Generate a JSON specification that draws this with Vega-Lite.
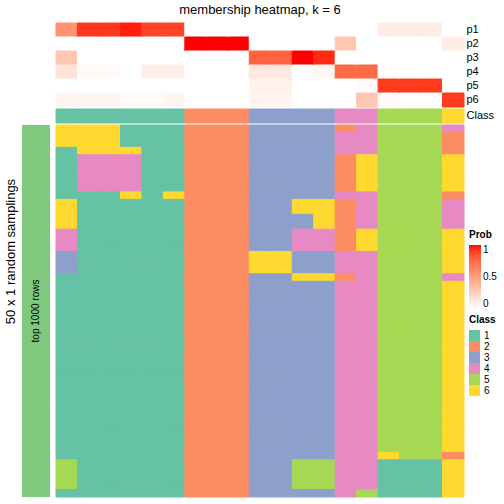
{
"$schema": "https://vega.github.io/schema/vega-lite/v6.json",
"padding": {"left": 4, "top": 3, "right": 0, "bottom": 0},
"config": {"font": "Liberation Sans", "view": {"stroke": null}, "axis": {"grid": false}},
"datasets": {
"bar": [{"label": "top 1000 rows", "g": "a"}],
"cls": [{"n":"Class","c":1,"k":1},{"n":"Class","c":2,"k":1},{"n":"Class","c":3,"k":1},{"n":"Class","c":4,"k":1},{"n":"Class","c":5,"k":1},{"n":"Class","c":6,"k":1},{"n":"Class","c":7,"k":2},{"n":"Class","c":8,"k":2},{"n":"Class","c":9,"k":2},{"n":"Class","c":10,"k":3},{"n":"Class","c":11,"k":3},{"n":"Class","c":12,"k":3},{"n":"Class","c":13,"k":3},{"n":"Class","c":14,"k":4},{"n":"Class","c":15,"k":4},{"n":"Class","c":16,"k":5},{"n":"Class","c":17,"k":5},{"n":"Class","c":18,"k":5},{"n":"Class","c":19,"k":6}],
"prob": [
{"p":"p1","c":1,"v":0.56},{"p":"p2","c":1,"v":0},{"p":"p3","c":1,"v":0.3},{"p":"p4","c":1,"v":0.15},{"p":"p5","c":1,"v":0},{"p":"p6","c":1,"v":0.06},
{"p":"p1","c":2,"v":0.92},{"p":"p2","c":2,"v":0},{"p":"p3","c":2,"v":0},{"p":"p4","c":2,"v":0.03},{"p":"p5","c":2,"v":0},{"p":"p6","c":2,"v":0.05},
{"p":"p1","c":3,"v":0.92},{"p":"p2","c":3,"v":0},{"p":"p3","c":3,"v":0},{"p":"p4","c":3,"v":0.03},{"p":"p5","c":3,"v":0},{"p":"p6","c":3,"v":0.05},
{"p":"p1","c":4,"v":0.97},{"p":"p2","c":4,"v":0},{"p":"p3","c":4,"v":0},{"p":"p4","c":4,"v":0},{"p":"p5","c":4,"v":0},{"p":"p6","c":4,"v":0.03},
{"p":"p1","c":5,"v":0.88},{"p":"p2","c":5,"v":0},{"p":"p3","c":5,"v":0},{"p":"p4","c":5,"v":0.09},{"p":"p5","c":5,"v":0},{"p":"p6","c":5,"v":0.03},
{"p":"p1","c":6,"v":0.88},{"p":"p2","c":6,"v":0},{"p":"p3","c":6,"v":0},{"p":"p4","c":6,"v":0.09},{"p":"p5","c":6,"v":0},{"p":"p6","c":6,"v":0.05},
{"p":"p1","c":7,"v":0},{"p":"p2","c":7,"v":1},{"p":"p3","c":7,"v":0},{"p":"p4","c":7,"v":0},{"p":"p5","c":7,"v":0},{"p":"p6","c":7,"v":0},
{"p":"p1","c":8,"v":0},{"p":"p2","c":8,"v":1},{"p":"p3","c":8,"v":0},{"p":"p4","c":8,"v":0},{"p":"p5","c":8,"v":0},{"p":"p6","c":8,"v":0},
{"p":"p1","c":9,"v":0},{"p":"p2","c":9,"v":1},{"p":"p3","c":9,"v":0},{"p":"p4","c":9,"v":0},{"p":"p5","c":9,"v":0},{"p":"p6","c":9,"v":0},
{"p":"p1","c":10,"v":0},{"p":"p2","c":10,"v":0},{"p":"p3","c":10,"v":0.78},{"p":"p4","c":10,"v":0.12},{"p":"p5","c":10,"v":0.07},{"p":"p6","c":10,"v":0.06},
{"p":"p1","c":11,"v":0},{"p":"p2","c":11,"v":0},{"p":"p3","c":11,"v":0.78},{"p":"p4","c":11,"v":0.12},{"p":"p5","c":11,"v":0.07},{"p":"p6","c":11,"v":0.06},
{"p":"p1","c":12,"v":0},{"p":"p2","c":12,"v":0},{"p":"p3","c":12,"v":1},{"p":"p4","c":12,"v":0},{"p":"p5","c":12,"v":0},{"p":"p6","c":12,"v":0},
{"p":"p1","c":13,"v":0},{"p":"p2","c":13,"v":0},{"p":"p3","c":13,"v":0.95},{"p":"p4","c":13,"v":0.04},{"p":"p5","c":13,"v":0},{"p":"p6","c":13,"v":0},
{"p":"p1","c":14,"v":0},{"p":"p2","c":14,"v":0.3},{"p":"p3","c":14,"v":0},{"p":"p4","c":14,"v":0.74},{"p":"p5","c":14,"v":0},{"p":"p6","c":14,"v":0},
{"p":"p1","c":15,"v":0},{"p":"p2","c":15,"v":0},{"p":"p3","c":15,"v":0},{"p":"p4","c":15,"v":0.74},{"p":"p5","c":15,"v":0.02},{"p":"p6","c":15,"v":0.3},
{"p":"p1","c":16,"v":0.1},{"p":"p2","c":16,"v":0},{"p":"p3","c":16,"v":0},{"p":"p4","c":16,"v":0},{"p":"p5","c":16,"v":0.91},{"p":"p6","c":16,"v":0.02},
{"p":"p1","c":17,"v":0.1},{"p":"p2","c":17,"v":0},{"p":"p3","c":17,"v":0},{"p":"p4","c":17,"v":0},{"p":"p5","c":17,"v":0.91},{"p":"p6","c":17,"v":0},
{"p":"p1","c":18,"v":0.1},{"p":"p2","c":18,"v":0},{"p":"p3","c":18,"v":0},{"p":"p4","c":18,"v":0},{"p":"p5","c":18,"v":0.91},{"p":"p6","c":18,"v":0},
{"p":"p1","c":19,"v":0},{"p":"p2","c":19,"v":0.1},{"p":"p3","c":19,"v":0},{"p":"p4","c":19,"v":0},{"p":"p5","c":19,"v":0},{"p":"p6","c":19,"v":0.91}
],
"main": [
{"r":1,"c":1,"k":6},{"r":1,"c":2,"k":6},{"r":1,"c":3,"k":6},{"r":1,"c":4,"k":1},{"r":1,"c":5,"k":1},{"r":1,"c":6,"k":1},{"r":1,"c":7,"k":2},{"r":1,"c":8,"k":2},{"r":1,"c":9,"k":2},{"r":1,"c":10,"k":3},{"r":1,"c":11,"k":3},{"r":1,"c":12,"k":3},{"r":1,"c":13,"k":3},{"r":1,"c":14,"k":2},{"r":1,"c":15,"k":4},{"r":1,"c":16,"k":5},{"r":1,"c":17,"k":5},{"r":1,"c":18,"k":5},{"r":1,"c":19,"k":4},
{"r":2,"c":1,"k":6},{"r":2,"c":2,"k":6},{"r":2,"c":3,"k":6},{"r":2,"c":4,"k":1},{"r":2,"c":5,"k":1},{"r":2,"c":6,"k":1},{"r":2,"c":7,"k":2},{"r":2,"c":8,"k":2},{"r":2,"c":9,"k":2},{"r":2,"c":10,"k":3},{"r":2,"c":11,"k":3},{"r":2,"c":12,"k":3},{"r":2,"c":13,"k":3},{"r":2,"c":14,"k":4},{"r":2,"c":15,"k":4},{"r":2,"c":16,"k":5},{"r":2,"c":17,"k":5},{"r":2,"c":18,"k":5},{"r":2,"c":19,"k":2},
{"r":3,"c":1,"k":6},{"r":3,"c":2,"k":6},{"r":3,"c":3,"k":6},{"r":3,"c":4,"k":1},{"r":3,"c":5,"k":1},{"r":3,"c":6,"k":1},{"r":3,"c":7,"k":2},{"r":3,"c":8,"k":2},{"r":3,"c":9,"k":2},{"r":3,"c":10,"k":3},{"r":3,"c":11,"k":3},{"r":3,"c":12,"k":3},{"r":3,"c":13,"k":3},{"r":3,"c":14,"k":4},{"r":3,"c":15,"k":4},{"r":3,"c":16,"k":5},{"r":3,"c":17,"k":5},{"r":3,"c":18,"k":5},{"r":3,"c":19,"k":2},
{"r":4,"c":1,"k":1},{"r":4,"c":2,"k":6},{"r":4,"c":3,"k":6},{"r":4,"c":4,"k":6},{"r":4,"c":5,"k":1},{"r":4,"c":6,"k":1},{"r":4,"c":7,"k":2},{"r":4,"c":8,"k":2},{"r":4,"c":9,"k":2},{"r":4,"c":10,"k":3},{"r":4,"c":11,"k":3},{"r":4,"c":12,"k":3},{"r":4,"c":13,"k":3},{"r":4,"c":14,"k":4},{"r":4,"c":15,"k":4},{"r":4,"c":16,"k":5},{"r":4,"c":17,"k":5},{"r":4,"c":18,"k":5},{"r":4,"c":19,"k":2},
{"r":5,"c":1,"k":1},{"r":5,"c":2,"k":4},{"r":5,"c":3,"k":4},{"r":5,"c":4,"k":4},{"r":5,"c":5,"k":1},{"r":5,"c":6,"k":1},{"r":5,"c":7,"k":2},{"r":5,"c":8,"k":2},{"r":5,"c":9,"k":2},{"r":5,"c":10,"k":3},{"r":5,"c":11,"k":3},{"r":5,"c":12,"k":3},{"r":5,"c":13,"k":3},{"r":5,"c":14,"k":2},{"r":5,"c":15,"k":6},{"r":5,"c":16,"k":5},{"r":5,"c":17,"k":5},{"r":5,"c":18,"k":5},{"r":5,"c":19,"k":6},
{"r":6,"c":1,"k":1},{"r":6,"c":2,"k":4},{"r":6,"c":3,"k":4},{"r":6,"c":4,"k":4},{"r":6,"c":5,"k":1},{"r":6,"c":6,"k":1},{"r":6,"c":7,"k":2},{"r":6,"c":8,"k":2},{"r":6,"c":9,"k":2},{"r":6,"c":10,"k":3},{"r":6,"c":11,"k":3},{"r":6,"c":12,"k":3},{"r":6,"c":13,"k":3},{"r":6,"c":14,"k":2},{"r":6,"c":15,"k":6},{"r":6,"c":16,"k":5},{"r":6,"c":17,"k":5},{"r":6,"c":18,"k":5},{"r":6,"c":19,"k":6},
{"r":7,"c":1,"k":1},{"r":7,"c":2,"k":4},{"r":7,"c":3,"k":4},{"r":7,"c":4,"k":4},{"r":7,"c":5,"k":1},{"r":7,"c":6,"k":1},{"r":7,"c":7,"k":2},{"r":7,"c":8,"k":2},{"r":7,"c":9,"k":2},{"r":7,"c":10,"k":3},{"r":7,"c":11,"k":3},{"r":7,"c":12,"k":3},{"r":7,"c":13,"k":3},{"r":7,"c":14,"k":2},{"r":7,"c":15,"k":6},{"r":7,"c":16,"k":5},{"r":7,"c":17,"k":5},{"r":7,"c":18,"k":5},{"r":7,"c":19,"k":6},
{"r":8,"c":1,"k":1},{"r":8,"c":2,"k":4},{"r":8,"c":3,"k":4},{"r":8,"c":4,"k":4},{"r":8,"c":5,"k":1},{"r":8,"c":6,"k":1},{"r":8,"c":7,"k":2},{"r":8,"c":8,"k":2},{"r":8,"c":9,"k":2},{"r":8,"c":10,"k":3},{"r":8,"c":11,"k":3},{"r":8,"c":12,"k":3},{"r":8,"c":13,"k":3},{"r":8,"c":14,"k":2},{"r":8,"c":15,"k":6},{"r":8,"c":16,"k":5},{"r":8,"c":17,"k":5},{"r":8,"c":18,"k":5},{"r":8,"c":19,"k":6},
{"r":9,"c":1,"k":1},{"r":9,"c":2,"k":4},{"r":9,"c":3,"k":4},{"r":9,"c":4,"k":4},{"r":9,"c":5,"k":1},{"r":9,"c":6,"k":1},{"r":9,"c":7,"k":2},{"r":9,"c":8,"k":2},{"r":9,"c":9,"k":2},{"r":9,"c":10,"k":3},{"r":9,"c":11,"k":3},{"r":9,"c":12,"k":3},{"r":9,"c":13,"k":3},{"r":9,"c":14,"k":2},{"r":9,"c":15,"k":6},{"r":9,"c":16,"k":5},{"r":9,"c":17,"k":5},{"r":9,"c":18,"k":5},{"r":9,"c":19,"k":6},
{"r":10,"c":1,"k":1},{"r":10,"c":2,"k":1},{"r":10,"c":3,"k":1},{"r":10,"c":4,"k":6},{"r":10,"c":5,"k":1},{"r":10,"c":6,"k":6},{"r":10,"c":7,"k":2},{"r":10,"c":8,"k":2},{"r":10,"c":9,"k":2},{"r":10,"c":10,"k":3},{"r":10,"c":11,"k":3},{"r":10,"c":12,"k":3},{"r":10,"c":13,"k":3},{"r":10,"c":14,"k":4},{"r":10,"c":15,"k":4},{"r":10,"c":16,"k":5},{"r":10,"c":17,"k":5},{"r":10,"c":18,"k":5},{"r":10,"c":19,"k":2},
{"r":11,"c":1,"k":6},{"r":11,"c":2,"k":1},{"r":11,"c":3,"k":1},{"r":11,"c":4,"k":1},{"r":11,"c":5,"k":1},{"r":11,"c":6,"k":1},{"r":11,"c":7,"k":2},{"r":11,"c":8,"k":2},{"r":11,"c":9,"k":2},{"r":11,"c":10,"k":3},{"r":11,"c":11,"k":3},{"r":11,"c":12,"k":6},{"r":11,"c":13,"k":6},{"r":11,"c":14,"k":2},{"r":11,"c":15,"k":4},{"r":11,"c":16,"k":5},{"r":11,"c":17,"k":5},{"r":11,"c":18,"k":5},{"r":11,"c":19,"k":4},
{"r":12,"c":1,"k":6},{"r":12,"c":2,"k":1},{"r":12,"c":3,"k":1},{"r":12,"c":4,"k":1},{"r":12,"c":5,"k":1},{"r":12,"c":6,"k":1},{"r":12,"c":7,"k":2},{"r":12,"c":8,"k":2},{"r":12,"c":9,"k":2},{"r":12,"c":10,"k":3},{"r":12,"c":11,"k":3},{"r":12,"c":12,"k":6},{"r":12,"c":13,"k":6},{"r":12,"c":14,"k":2},{"r":12,"c":15,"k":4},{"r":12,"c":16,"k":5},{"r":12,"c":17,"k":5},{"r":12,"c":18,"k":5},{"r":12,"c":19,"k":4},
{"r":13,"c":1,"k":6},{"r":13,"c":2,"k":1},{"r":13,"c":3,"k":1},{"r":13,"c":4,"k":1},{"r":13,"c":5,"k":1},{"r":13,"c":6,"k":1},{"r":13,"c":7,"k":2},{"r":13,"c":8,"k":2},{"r":13,"c":9,"k":2},{"r":13,"c":10,"k":3},{"r":13,"c":11,"k":3},{"r":13,"c":12,"k":3},{"r":13,"c":13,"k":6},{"r":13,"c":14,"k":2},{"r":13,"c":15,"k":4},{"r":13,"c":16,"k":5},{"r":13,"c":17,"k":5},{"r":13,"c":18,"k":5},{"r":13,"c":19,"k":4},
{"r":14,"c":1,"k":6},{"r":14,"c":2,"k":1},{"r":14,"c":3,"k":1},{"r":14,"c":4,"k":1},{"r":14,"c":5,"k":1},{"r":14,"c":6,"k":1},{"r":14,"c":7,"k":2},{"r":14,"c":8,"k":2},{"r":14,"c":9,"k":2},{"r":14,"c":10,"k":3},{"r":14,"c":11,"k":3},{"r":14,"c":12,"k":3},{"r":14,"c":13,"k":6},{"r":14,"c":14,"k":2},{"r":14,"c":15,"k":4},{"r":14,"c":16,"k":5},{"r":14,"c":17,"k":5},{"r":14,"c":18,"k":5},{"r":14,"c":19,"k":4},
{"r":15,"c":1,"k":4},{"r":15,"c":2,"k":1},{"r":15,"c":3,"k":1},{"r":15,"c":4,"k":1},{"r":15,"c":5,"k":1},{"r":15,"c":6,"k":1},{"r":15,"c":7,"k":2},{"r":15,"c":8,"k":2},{"r":15,"c":9,"k":2},{"r":15,"c":10,"k":3},{"r":15,"c":11,"k":3},{"r":15,"c":12,"k":4},{"r":15,"c":13,"k":4},{"r":15,"c":14,"k":2},{"r":15,"c":15,"k":6},{"r":15,"c":16,"k":5},{"r":15,"c":17,"k":5},{"r":15,"c":18,"k":5},{"r":15,"c":19,"k":6},
{"r":16,"c":1,"k":4},{"r":16,"c":2,"k":1},{"r":16,"c":3,"k":1},{"r":16,"c":4,"k":1},{"r":16,"c":5,"k":1},{"r":16,"c":6,"k":1},{"r":16,"c":7,"k":2},{"r":16,"c":8,"k":2},{"r":16,"c":9,"k":2},{"r":16,"c":10,"k":3},{"r":16,"c":11,"k":3},{"r":16,"c":12,"k":4},{"r":16,"c":13,"k":4},{"r":16,"c":14,"k":2},{"r":16,"c":15,"k":6},{"r":16,"c":16,"k":5},{"r":16,"c":17,"k":5},{"r":16,"c":18,"k":5},{"r":16,"c":19,"k":6},
{"r":17,"c":1,"k":4},{"r":17,"c":2,"k":1},{"r":17,"c":3,"k":1},{"r":17,"c":4,"k":1},{"r":17,"c":5,"k":1},{"r":17,"c":6,"k":1},{"r":17,"c":7,"k":2},{"r":17,"c":8,"k":2},{"r":17,"c":9,"k":2},{"r":17,"c":10,"k":3},{"r":17,"c":11,"k":3},{"r":17,"c":12,"k":4},{"r":17,"c":13,"k":4},{"r":17,"c":14,"k":2},{"r":17,"c":15,"k":6},{"r":17,"c":16,"k":5},{"r":17,"c":17,"k":5},{"r":17,"c":18,"k":5},{"r":17,"c":19,"k":6},
{"r":18,"c":1,"k":3},{"r":18,"c":2,"k":1},{"r":18,"c":3,"k":1},{"r":18,"c":4,"k":1},{"r":18,"c":5,"k":1},{"r":18,"c":6,"k":1},{"r":18,"c":7,"k":2},{"r":18,"c":8,"k":2},{"r":18,"c":9,"k":2},{"r":18,"c":10,"k":6},{"r":18,"c":11,"k":6},{"r":18,"c":12,"k":3},{"r":18,"c":13,"k":3},{"r":18,"c":14,"k":4},{"r":18,"c":15,"k":4},{"r":18,"c":16,"k":5},{"r":18,"c":17,"k":5},{"r":18,"c":18,"k":5},{"r":18,"c":19,"k":6},
{"r":19,"c":1,"k":3},{"r":19,"c":2,"k":1},{"r":19,"c":3,"k":1},{"r":19,"c":4,"k":1},{"r":19,"c":5,"k":1},{"r":19,"c":6,"k":1},{"r":19,"c":7,"k":2},{"r":19,"c":8,"k":2},{"r":19,"c":9,"k":2},{"r":19,"c":10,"k":6},{"r":19,"c":11,"k":6},{"r":19,"c":12,"k":3},{"r":19,"c":13,"k":3},{"r":19,"c":14,"k":4},{"r":19,"c":15,"k":4},{"r":19,"c":16,"k":5},{"r":19,"c":17,"k":5},{"r":19,"c":18,"k":5},{"r":19,"c":19,"k":6},
{"r":20,"c":1,"k":3},{"r":20,"c":2,"k":1},{"r":20,"c":3,"k":1},{"r":20,"c":4,"k":1},{"r":20,"c":5,"k":1},{"r":20,"c":6,"k":1},{"r":20,"c":7,"k":2},{"r":20,"c":8,"k":2},{"r":20,"c":9,"k":2},{"r":20,"c":10,"k":6},{"r":20,"c":11,"k":6},{"r":20,"c":12,"k":3},{"r":20,"c":13,"k":3},{"r":20,"c":14,"k":4},{"r":20,"c":15,"k":4},{"r":20,"c":16,"k":5},{"r":20,"c":17,"k":5},{"r":20,"c":18,"k":5},{"r":20,"c":19,"k":6},
{"r":21,"c":1,"k":1},{"r":21,"c":2,"k":1},{"r":21,"c":3,"k":1},{"r":21,"c":4,"k":1},{"r":21,"c":5,"k":1},{"r":21,"c":6,"k":1},{"r":21,"c":7,"k":2},{"r":21,"c":8,"k":2},{"r":21,"c":9,"k":2},{"r":21,"c":10,"k":3},{"r":21,"c":11,"k":3},{"r":21,"c":12,"k":6},{"r":21,"c":13,"k":6},{"r":21,"c":14,"k":2},{"r":21,"c":15,"k":4},{"r":21,"c":16,"k":5},{"r":21,"c":17,"k":5},{"r":21,"c":18,"k":5},{"r":21,"c":19,"k":4},
{"r":22,"c":1,"k":1},{"r":22,"c":2,"k":1},{"r":22,"c":3,"k":1},{"r":22,"c":4,"k":1},{"r":22,"c":5,"k":1},{"r":22,"c":6,"k":1},{"r":22,"c":7,"k":2},{"r":22,"c":8,"k":2},{"r":22,"c":9,"k":2},{"r":22,"c":10,"k":3},{"r":22,"c":11,"k":3},{"r":22,"c":12,"k":3},{"r":22,"c":13,"k":3},{"r":22,"c":14,"k":4},{"r":22,"c":15,"k":4},{"r":22,"c":16,"k":5},{"r":22,"c":17,"k":5},{"r":22,"c":18,"k":5},{"r":22,"c":19,"k":6},
{"r":23,"c":1,"k":1},{"r":23,"c":2,"k":1},{"r":23,"c":3,"k":1},{"r":23,"c":4,"k":1},{"r":23,"c":5,"k":1},{"r":23,"c":6,"k":1},{"r":23,"c":7,"k":2},{"r":23,"c":8,"k":2},{"r":23,"c":9,"k":2},{"r":23,"c":10,"k":3},{"r":23,"c":11,"k":3},{"r":23,"c":12,"k":3},{"r":23,"c":13,"k":3},{"r":23,"c":14,"k":4},{"r":23,"c":15,"k":4},{"r":23,"c":16,"k":5},{"r":23,"c":17,"k":5},{"r":23,"c":18,"k":5},{"r":23,"c":19,"k":6},
{"r":24,"c":1,"k":1},{"r":24,"c":2,"k":1},{"r":24,"c":3,"k":1},{"r":24,"c":4,"k":1},{"r":24,"c":5,"k":1},{"r":24,"c":6,"k":1},{"r":24,"c":7,"k":2},{"r":24,"c":8,"k":2},{"r":24,"c":9,"k":2},{"r":24,"c":10,"k":3},{"r":24,"c":11,"k":3},{"r":24,"c":12,"k":3},{"r":24,"c":13,"k":3},{"r":24,"c":14,"k":4},{"r":24,"c":15,"k":4},{"r":24,"c":16,"k":5},{"r":24,"c":17,"k":5},{"r":24,"c":18,"k":5},{"r":24,"c":19,"k":6},
{"r":25,"c":1,"k":1},{"r":25,"c":2,"k":1},{"r":25,"c":3,"k":1},{"r":25,"c":4,"k":1},{"r":25,"c":5,"k":1},{"r":25,"c":6,"k":1},{"r":25,"c":7,"k":2},{"r":25,"c":8,"k":2},{"r":25,"c":9,"k":2},{"r":25,"c":10,"k":3},{"r":25,"c":11,"k":3},{"r":25,"c":12,"k":3},{"r":25,"c":13,"k":3},{"r":25,"c":14,"k":4},{"r":25,"c":15,"k":4},{"r":25,"c":16,"k":5},{"r":25,"c":17,"k":5},{"r":25,"c":18,"k":5},{"r":25,"c":19,"k":6},
{"r":26,"c":1,"k":1},{"r":26,"c":2,"k":1},{"r":26,"c":3,"k":1},{"r":26,"c":4,"k":1},{"r":26,"c":5,"k":1},{"r":26,"c":6,"k":1},{"r":26,"c":7,"k":2},{"r":26,"c":8,"k":2},{"r":26,"c":9,"k":2},{"r":26,"c":10,"k":3},{"r":26,"c":11,"k":3},{"r":26,"c":12,"k":3},{"r":26,"c":13,"k":3},{"r":26,"c":14,"k":4},{"r":26,"c":15,"k":4},{"r":26,"c":16,"k":5},{"r":26,"c":17,"k":5},{"r":26,"c":18,"k":5},{"r":26,"c":19,"k":6},
{"r":27,"c":1,"k":1},{"r":27,"c":2,"k":1},{"r":27,"c":3,"k":1},{"r":27,"c":4,"k":1},{"r":27,"c":5,"k":1},{"r":27,"c":6,"k":1},{"r":27,"c":7,"k":2},{"r":27,"c":8,"k":2},{"r":27,"c":9,"k":2},{"r":27,"c":10,"k":3},{"r":27,"c":11,"k":3},{"r":27,"c":12,"k":3},{"r":27,"c":13,"k":3},{"r":27,"c":14,"k":4},{"r":27,"c":15,"k":4},{"r":27,"c":16,"k":5},{"r":27,"c":17,"k":5},{"r":27,"c":18,"k":5},{"r":27,"c":19,"k":6},
{"r":28,"c":1,"k":1},{"r":28,"c":2,"k":1},{"r":28,"c":3,"k":1},{"r":28,"c":4,"k":1},{"r":28,"c":5,"k":1},{"r":28,"c":6,"k":1},{"r":28,"c":7,"k":2},{"r":28,"c":8,"k":2},{"r":28,"c":9,"k":2},{"r":28,"c":10,"k":3},{"r":28,"c":11,"k":3},{"r":28,"c":12,"k":3},{"r":28,"c":13,"k":3},{"r":28,"c":14,"k":4},{"r":28,"c":15,"k":4},{"r":28,"c":16,"k":5},{"r":28,"c":17,"k":5},{"r":28,"c":18,"k":5},{"r":28,"c":19,"k":6},
{"r":29,"c":1,"k":1},{"r":29,"c":2,"k":1},{"r":29,"c":3,"k":1},{"r":29,"c":4,"k":1},{"r":29,"c":5,"k":1},{"r":29,"c":6,"k":1},{"r":29,"c":7,"k":2},{"r":29,"c":8,"k":2},{"r":29,"c":9,"k":2},{"r":29,"c":10,"k":3},{"r":29,"c":11,"k":3},{"r":29,"c":12,"k":3},{"r":29,"c":13,"k":3},{"r":29,"c":14,"k":4},{"r":29,"c":15,"k":4},{"r":29,"c":16,"k":5},{"r":29,"c":17,"k":5},{"r":29,"c":18,"k":5},{"r":29,"c":19,"k":6},
{"r":30,"c":1,"k":1},{"r":30,"c":2,"k":1},{"r":30,"c":3,"k":1},{"r":30,"c":4,"k":1},{"r":30,"c":5,"k":1},{"r":30,"c":6,"k":1},{"r":30,"c":7,"k":2},{"r":30,"c":8,"k":2},{"r":30,"c":9,"k":2},{"r":30,"c":10,"k":3},{"r":30,"c":11,"k":3},{"r":30,"c":12,"k":3},{"r":30,"c":13,"k":3},{"r":30,"c":14,"k":4},{"r":30,"c":15,"k":4},{"r":30,"c":16,"k":5},{"r":30,"c":17,"k":5},{"r":30,"c":18,"k":5},{"r":30,"c":19,"k":6},
{"r":31,"c":1,"k":1},{"r":31,"c":2,"k":1},{"r":31,"c":3,"k":1},{"r":31,"c":4,"k":1},{"r":31,"c":5,"k":1},{"r":31,"c":6,"k":1},{"r":31,"c":7,"k":2},{"r":31,"c":8,"k":2},{"r":31,"c":9,"k":2},{"r":31,"c":10,"k":3},{"r":31,"c":11,"k":3},{"r":31,"c":12,"k":3},{"r":31,"c":13,"k":3},{"r":31,"c":14,"k":4},{"r":31,"c":15,"k":4},{"r":31,"c":16,"k":5},{"r":31,"c":17,"k":5},{"r":31,"c":18,"k":5},{"r":31,"c":19,"k":6},
{"r":32,"c":1,"k":1},{"r":32,"c":2,"k":1},{"r":32,"c":3,"k":1},{"r":32,"c":4,"k":1},{"r":32,"c":5,"k":1},{"r":32,"c":6,"k":1},{"r":32,"c":7,"k":2},{"r":32,"c":8,"k":2},{"r":32,"c":9,"k":2},{"r":32,"c":10,"k":3},{"r":32,"c":11,"k":3},{"r":32,"c":12,"k":3},{"r":32,"c":13,"k":3},{"r":32,"c":14,"k":4},{"r":32,"c":15,"k":4},{"r":32,"c":16,"k":5},{"r":32,"c":17,"k":5},{"r":32,"c":18,"k":5},{"r":32,"c":19,"k":6},
{"r":33,"c":1,"k":1},{"r":33,"c":2,"k":1},{"r":33,"c":3,"k":1},{"r":33,"c":4,"k":1},{"r":33,"c":5,"k":1},{"r":33,"c":6,"k":1},{"r":33,"c":7,"k":2},{"r":33,"c":8,"k":2},{"r":33,"c":9,"k":2},{"r":33,"c":10,"k":3},{"r":33,"c":11,"k":3},{"r":33,"c":12,"k":3},{"r":33,"c":13,"k":3},{"r":33,"c":14,"k":4},{"r":33,"c":15,"k":4},{"r":33,"c":16,"k":5},{"r":33,"c":17,"k":5},{"r":33,"c":18,"k":5},{"r":33,"c":19,"k":6},
{"r":34,"c":1,"k":1},{"r":34,"c":2,"k":1},{"r":34,"c":3,"k":1},{"r":34,"c":4,"k":1},{"r":34,"c":5,"k":1},{"r":34,"c":6,"k":1},{"r":34,"c":7,"k":2},{"r":34,"c":8,"k":2},{"r":34,"c":9,"k":2},{"r":34,"c":10,"k":3},{"r":34,"c":11,"k":3},{"r":34,"c":12,"k":3},{"r":34,"c":13,"k":3},{"r":34,"c":14,"k":4},{"r":34,"c":15,"k":4},{"r":34,"c":16,"k":5},{"r":34,"c":17,"k":5},{"r":34,"c":18,"k":5},{"r":34,"c":19,"k":6},
{"r":35,"c":1,"k":1},{"r":35,"c":2,"k":1},{"r":35,"c":3,"k":1},{"r":35,"c":4,"k":1},{"r":35,"c":5,"k":1},{"r":35,"c":6,"k":1},{"r":35,"c":7,"k":2},{"r":35,"c":8,"k":2},{"r":35,"c":9,"k":2},{"r":35,"c":10,"k":3},{"r":35,"c":11,"k":3},{"r":35,"c":12,"k":3},{"r":35,"c":13,"k":3},{"r":35,"c":14,"k":4},{"r":35,"c":15,"k":4},{"r":35,"c":16,"k":5},{"r":35,"c":17,"k":5},{"r":35,"c":18,"k":5},{"r":35,"c":19,"k":6},
{"r":36,"c":1,"k":1},{"r":36,"c":2,"k":1},{"r":36,"c":3,"k":1},{"r":36,"c":4,"k":1},{"r":36,"c":5,"k":1},{"r":36,"c":6,"k":1},{"r":36,"c":7,"k":2},{"r":36,"c":8,"k":2},{"r":36,"c":9,"k":2},{"r":36,"c":10,"k":3},{"r":36,"c":11,"k":3},{"r":36,"c":12,"k":3},{"r":36,"c":13,"k":3},{"r":36,"c":14,"k":4},{"r":36,"c":15,"k":4},{"r":36,"c":16,"k":5},{"r":36,"c":17,"k":5},{"r":36,"c":18,"k":5},{"r":36,"c":19,"k":6},
{"r":37,"c":1,"k":1},{"r":37,"c":2,"k":1},{"r":37,"c":3,"k":1},{"r":37,"c":4,"k":1},{"r":37,"c":5,"k":1},{"r":37,"c":6,"k":1},{"r":37,"c":7,"k":2},{"r":37,"c":8,"k":2},{"r":37,"c":9,"k":2},{"r":37,"c":10,"k":3},{"r":37,"c":11,"k":3},{"r":37,"c":12,"k":3},{"r":37,"c":13,"k":3},{"r":37,"c":14,"k":4},{"r":37,"c":15,"k":4},{"r":37,"c":16,"k":5},{"r":37,"c":17,"k":5},{"r":37,"c":18,"k":5},{"r":37,"c":19,"k":6},
{"r":38,"c":1,"k":1},{"r":38,"c":2,"k":1},{"r":38,"c":3,"k":1},{"r":38,"c":4,"k":1},{"r":38,"c":5,"k":1},{"r":38,"c":6,"k":1},{"r":38,"c":7,"k":2},{"r":38,"c":8,"k":2},{"r":38,"c":9,"k":2},{"r":38,"c":10,"k":3},{"r":38,"c":11,"k":3},{"r":38,"c":12,"k":3},{"r":38,"c":13,"k":3},{"r":38,"c":14,"k":4},{"r":38,"c":15,"k":4},{"r":38,"c":16,"k":5},{"r":38,"c":17,"k":5},{"r":38,"c":18,"k":5},{"r":38,"c":19,"k":6},
{"r":39,"c":1,"k":1},{"r":39,"c":2,"k":1},{"r":39,"c":3,"k":1},{"r":39,"c":4,"k":1},{"r":39,"c":5,"k":1},{"r":39,"c":6,"k":1},{"r":39,"c":7,"k":2},{"r":39,"c":8,"k":2},{"r":39,"c":9,"k":2},{"r":39,"c":10,"k":3},{"r":39,"c":11,"k":3},{"r":39,"c":12,"k":3},{"r":39,"c":13,"k":3},{"r":39,"c":14,"k":4},{"r":39,"c":15,"k":4},{"r":39,"c":16,"k":5},{"r":39,"c":17,"k":5},{"r":39,"c":18,"k":5},{"r":39,"c":19,"k":6},
{"r":40,"c":1,"k":1},{"r":40,"c":2,"k":1},{"r":40,"c":3,"k":1},{"r":40,"c":4,"k":1},{"r":40,"c":5,"k":1},{"r":40,"c":6,"k":1},{"r":40,"c":7,"k":2},{"r":40,"c":8,"k":2},{"r":40,"c":9,"k":2},{"r":40,"c":10,"k":3},{"r":40,"c":11,"k":3},{"r":40,"c":12,"k":3},{"r":40,"c":13,"k":3},{"r":40,"c":14,"k":4},{"r":40,"c":15,"k":4},{"r":40,"c":16,"k":5},{"r":40,"c":17,"k":5},{"r":40,"c":18,"k":5},{"r":40,"c":19,"k":6},
{"r":41,"c":1,"k":1},{"r":41,"c":2,"k":1},{"r":41,"c":3,"k":1},{"r":41,"c":4,"k":1},{"r":41,"c":5,"k":1},{"r":41,"c":6,"k":1},{"r":41,"c":7,"k":2},{"r":41,"c":8,"k":2},{"r":41,"c":9,"k":2},{"r":41,"c":10,"k":3},{"r":41,"c":11,"k":3},{"r":41,"c":12,"k":3},{"r":41,"c":13,"k":3},{"r":41,"c":14,"k":4},{"r":41,"c":15,"k":4},{"r":41,"c":16,"k":5},{"r":41,"c":17,"k":5},{"r":41,"c":18,"k":5},{"r":41,"c":19,"k":6},
{"r":42,"c":1,"k":1},{"r":42,"c":2,"k":1},{"r":42,"c":3,"k":1},{"r":42,"c":4,"k":1},{"r":42,"c":5,"k":1},{"r":42,"c":6,"k":1},{"r":42,"c":7,"k":2},{"r":42,"c":8,"k":2},{"r":42,"c":9,"k":2},{"r":42,"c":10,"k":3},{"r":42,"c":11,"k":3},{"r":42,"c":12,"k":3},{"r":42,"c":13,"k":3},{"r":42,"c":14,"k":4},{"r":42,"c":15,"k":4},{"r":42,"c":16,"k":5},{"r":42,"c":17,"k":5},{"r":42,"c":18,"k":5},{"r":42,"c":19,"k":6},
{"r":43,"c":1,"k":1},{"r":43,"c":2,"k":1},{"r":43,"c":3,"k":1},{"r":43,"c":4,"k":1},{"r":43,"c":5,"k":1},{"r":43,"c":6,"k":1},{"r":43,"c":7,"k":2},{"r":43,"c":8,"k":2},{"r":43,"c":9,"k":2},{"r":43,"c":10,"k":3},{"r":43,"c":11,"k":3},{"r":43,"c":12,"k":3},{"r":43,"c":13,"k":3},{"r":43,"c":14,"k":4},{"r":43,"c":15,"k":4},{"r":43,"c":16,"k":5},{"r":43,"c":17,"k":5},{"r":43,"c":18,"k":5},{"r":43,"c":19,"k":6},
{"r":44,"c":1,"k":1},{"r":44,"c":2,"k":1},{"r":44,"c":3,"k":1},{"r":44,"c":4,"k":1},{"r":44,"c":5,"k":1},{"r":44,"c":6,"k":1},{"r":44,"c":7,"k":2},{"r":44,"c":8,"k":2},{"r":44,"c":9,"k":2},{"r":44,"c":10,"k":3},{"r":44,"c":11,"k":3},{"r":44,"c":12,"k":3},{"r":44,"c":13,"k":3},{"r":44,"c":14,"k":4},{"r":44,"c":15,"k":4},{"r":44,"c":16,"k":5},{"r":44,"c":17,"k":5},{"r":44,"c":18,"k":5},{"r":44,"c":19,"k":6},
{"r":45,"c":1,"k":1},{"r":45,"c":2,"k":1},{"r":45,"c":3,"k":1},{"r":45,"c":4,"k":1},{"r":45,"c":5,"k":1},{"r":45,"c":6,"k":1},{"r":45,"c":7,"k":2},{"r":45,"c":8,"k":2},{"r":45,"c":9,"k":2},{"r":45,"c":10,"k":3},{"r":45,"c":11,"k":3},{"r":45,"c":12,"k":3},{"r":45,"c":13,"k":3},{"r":45,"c":14,"k":4},{"r":45,"c":15,"k":4},{"r":45,"c":16,"k":6},{"r":45,"c":17,"k":5},{"r":45,"c":18,"k":5},{"r":45,"c":19,"k":2},
{"r":46,"c":1,"k":5},{"r":46,"c":2,"k":1},{"r":46,"c":3,"k":1},{"r":46,"c":4,"k":1},{"r":46,"c":5,"k":1},{"r":46,"c":6,"k":1},{"r":46,"c":7,"k":2},{"r":46,"c":8,"k":2},{"r":46,"c":9,"k":2},{"r":46,"c":10,"k":3},{"r":46,"c":11,"k":3},{"r":46,"c":12,"k":5},{"r":46,"c":13,"k":5},{"r":46,"c":14,"k":4},{"r":46,"c":15,"k":4},{"r":46,"c":16,"k":1},{"r":46,"c":17,"k":1},{"r":46,"c":18,"k":1},{"r":46,"c":19,"k":6},
{"r":47,"c":1,"k":5},{"r":47,"c":2,"k":1},{"r":47,"c":3,"k":1},{"r":47,"c":4,"k":1},{"r":47,"c":5,"k":1},{"r":47,"c":6,"k":1},{"r":47,"c":7,"k":2},{"r":47,"c":8,"k":2},{"r":47,"c":9,"k":2},{"r":47,"c":10,"k":3},{"r":47,"c":11,"k":3},{"r":47,"c":12,"k":5},{"r":47,"c":13,"k":5},{"r":47,"c":14,"k":4},{"r":47,"c":15,"k":4},{"r":47,"c":16,"k":1},{"r":47,"c":17,"k":1},{"r":47,"c":18,"k":1},{"r":47,"c":19,"k":6},
{"r":48,"c":1,"k":5},{"r":48,"c":2,"k":1},{"r":48,"c":3,"k":1},{"r":48,"c":4,"k":1},{"r":48,"c":5,"k":1},{"r":48,"c":6,"k":1},{"r":48,"c":7,"k":2},{"r":48,"c":8,"k":2},{"r":48,"c":9,"k":2},{"r":48,"c":10,"k":3},{"r":48,"c":11,"k":3},{"r":48,"c":12,"k":5},{"r":48,"c":13,"k":5},{"r":48,"c":14,"k":4},{"r":48,"c":15,"k":4},{"r":48,"c":16,"k":1},{"r":48,"c":17,"k":1},{"r":48,"c":18,"k":1},{"r":48,"c":19,"k":6},
{"r":49,"c":1,"k":5},{"r":49,"c":2,"k":1},{"r":49,"c":3,"k":1},{"r":49,"c":4,"k":1},{"r":49,"c":5,"k":1},{"r":49,"c":6,"k":1},{"r":49,"c":7,"k":2},{"r":49,"c":8,"k":2},{"r":49,"c":9,"k":2},{"r":49,"c":10,"k":3},{"r":49,"c":11,"k":3},{"r":49,"c":12,"k":5},{"r":49,"c":13,"k":5},{"r":49,"c":14,"k":4},{"r":49,"c":15,"k":4},{"r":49,"c":16,"k":1},{"r":49,"c":17,"k":1},{"r":49,"c":18,"k":1},{"r":49,"c":19,"k":6},
{"r":50,"c":1,"k":1},{"r":50,"c":2,"k":1},{"r":50,"c":3,"k":1},{"r":50,"c":4,"k":1},{"r":50,"c":5,"k":1},{"r":50,"c":6,"k":1},{"r":50,"c":7,"k":2},{"r":50,"c":8,"k":2},{"r":50,"c":9,"k":2},{"r":50,"c":10,"k":3},{"r":50,"c":11,"k":3},{"r":50,"c":12,"k":3},{"r":50,"c":13,"k":3},{"r":50,"c":14,"k":4},{"r":50,"c":15,"k":5},{"r":50,"c":16,"k":1},{"r":50,"c":17,"k":1},{"r":50,"c":18,"k":1},{"r":50,"c":19,"k":6}
]
},
"columns": 2,
"spacing": {"row": 2, "column": 6},
"bounds": "flush",
"resolve": {"scale": {"stroke": "independent"}},
"concat": [
{"width": 28, "height": 84, "data": {"name": "bar"}, "mark": {"type": "rect", "opacity": 0}, "encoding": {"x": {"value": 0}, "x2": {"value": "width"}, "y": {"value": 0}, "y2": {"value": "height"}}},
{"width": 408, "height": 84, "data": {"name": "prob"},
 "title": {"text": "membership heatmap, k = 6", "fontSize": 13, "fontWeight": "normal", "anchor": "middle", "offset": 6, "color": "black"},
 "mark": {"type": "rect", "strokeWidth": 1},
 "encoding": {
  "x": {"field": "c", "type": "ordinal", "axis": null, "scale": {"paddingInner": 0, "paddingOuter": 0}},
  "y": {"field": "p", "type": "ordinal", "scale": {"paddingInner": 0, "paddingOuter": 0}, "axis": {"orient": "right", "title": null, "ticks": false, "domain": false, "labelFontSize": 11, "labelPadding": 2, "labelColor": "black"}},
  "color": {"field": "v", "type": "quantitative", "scale": {"domain": [0, 1], "range": ["#FFFFFF", "#FF0000"], "interpolate": "lab"},
   "legend": {"title": "Prob", "orient": "none", "legendX": 447, "legendY": 207, "direction": "vertical", "gradientLength": 64, "gradientThickness": 12, "values": [0, 0.5, 1], "format": "~g", "titleFontSize": 10, "titleFontWeight": "bold", "titleColor": "black", "labelFontSize": 10, "labelColor": "black", "gradientStrokeWidth": 0}},
  "stroke": {"field": "v", "type": "quantitative", "scale": {"domain": [0, 1], "range": ["#FFFFFF", "#FF0000"], "interpolate": "lab"}, "legend": null}
 }},
{"width": 28, "height": 14, "data": {"name": "bar"}, "mark": {"type": "rect", "opacity": 0}, "encoding": {"x": {"value": 0}, "x2": {"value": "width"}, "y": {"value": 0}, "y2": {"value": "height"}}},
{"width": 408, "height": 14, "data": {"name": "cls"}, "mark": {"type": "rect", "strokeWidth": 1},
 "encoding": {
  "x": {"field": "c", "type": "ordinal", "axis": null, "scale": {"paddingInner": 0, "paddingOuter": 0}},
  "y": {"field": "n", "type": "nominal", "scale": {"paddingInner": 0, "paddingOuter": 0}, "axis": {"orient": "right", "title": null, "ticks": false, "domain": false, "labelFontSize": 11, "labelPadding": 2, "labelColor": "black"}},
  "fill": {"field": "k", "type": "nominal", "scale": {"domain": [1, 2, 3, 4, 5, 6], "range": ["#66C2A5", "#FC8D62", "#8DA0CB", "#E78AC3", "#A6D854", "#FFD92F"]},
   "legend": {"title": "Class", "orient": "none", "legendX": 447, "legendY": 292, "symbolType": "square", "symbolSize": 121, "symbolStrokeWidth": 0, "titleFontSize": 10, "titleFontWeight": "bold", "titleColor": "black", "labelFontSize": 10, "labelColor": "black", "rowPadding": 0}},
  "stroke": {"field": "k", "type": "nominal", "scale": {"domain": [1, 2, 3, 4, 5, 6], "range": ["#66C2A5", "#FC8D62", "#8DA0CB", "#E78AC3", "#A6D854", "#FFD92F"]}, "legend": null}
 }},
{"width": 28, "height": 372, "data": {"name": "bar"},
 "encoding": {"y": {"field": "g", "type": "nominal", "scale": {"paddingInner": 0, "paddingOuter": 0}, "axis": {"title": "50 x 1 random samplings", "labels": false, "ticks": false, "domain": false, "titleFontSize": 13, "titleFontWeight": "normal", "titleColor": "black", "titlePadding": 5, "titleY": 126}}},
 "layer": [
  {"mark": {"type": "rect", "color": "#7FC97F"}, "encoding": {"x": {"value": 0}, "x2": {"value": "width"}}},
  {"mark": {"type": "text", "angle": 270, "fontSize": 10, "color": "black"}, "encoding": {"text": {"field": "label"}}}
 ]},
{"width": 408, "height": 372, "data": {"name": "main"}, "mark": {"type": "rect", "strokeWidth": 1},
 "encoding": {
  "x": {"field": "c", "type": "ordinal", "axis": null, "scale": {"paddingInner": 0, "paddingOuter": 0}},
  "y": {"field": "r", "type": "ordinal", "axis": null, "scale": {"paddingInner": 0, "paddingOuter": 0}},
  "fill": {"field": "k", "type": "nominal", "scale": {"domain": [1, 2, 3, 4, 5, 6], "range": ["#66C2A5", "#FC8D62", "#8DA0CB", "#E78AC3", "#A6D854", "#FFD92F"]},
   "legend": {"title": "Class", "orient": "none", "legendX": 447, "legendY": 292, "symbolType": "square", "symbolSize": 121, "symbolStrokeWidth": 0, "titleFontSize": 10, "titleFontWeight": "bold", "titleColor": "black", "labelFontSize": 10, "labelColor": "black", "rowPadding": 0}},
  "stroke": {"field": "k", "type": "nominal", "scale": {"domain": [1, 2, 3, 4, 5, 6], "range": ["#66C2A5", "#FC8D62", "#8DA0CB", "#E78AC3", "#A6D854", "#FFD92F"]}, "legend": null}
 }}
]
}
